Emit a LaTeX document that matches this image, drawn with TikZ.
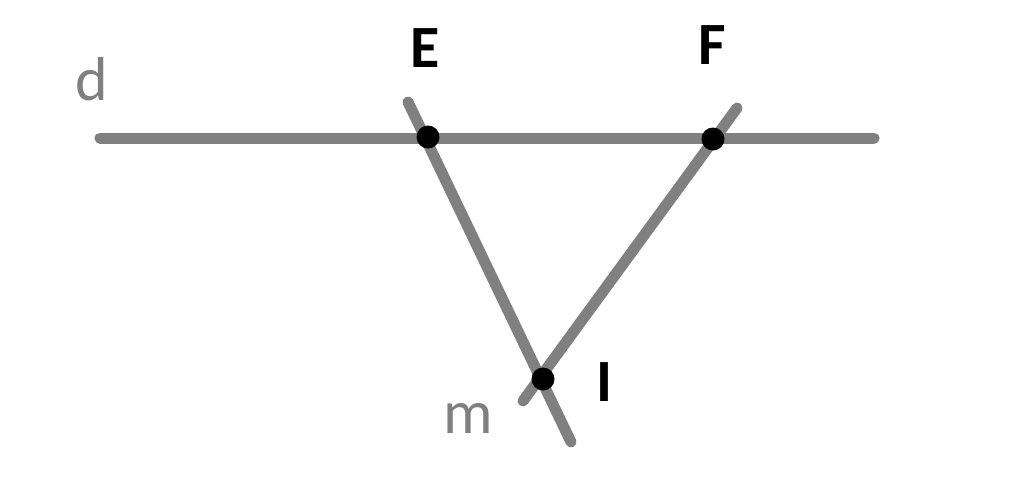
\documentclass[tikz,border=0pt]{standalone}
\usepackage{fontspec}
\setmainfont{Carlito}
\begin{document}
\begin{tikzpicture}[x=1pt,y=-1pt,
  ln/.style={draw=linegray,line width=11pt,line cap=round},
  pt/.style={circle,fill=black,inner sep=0pt,minimum size=23pt},
  blab/.style={font=\fontsize{60}{60}\selectfont\bfseries,text=black,inner sep=0pt},
  glab/.style={font=\fontsize{62}{62}\selectfont,text=labgray,inner sep=0pt}]
\definecolor{linegray}{RGB}{128,128,128}
\definecolor{labgray}{RGB}{128,128,128}
\useasboundingbox (0,0) rectangle (1024,495);
\coordinate (dA) at (100,138);
\coordinate (dB) at (874,138);
\coordinate (eA) at (408,102);
\coordinate (eB) at (571,442);
\coordinate (fA) at (737,108);
\coordinate (fB) at (523,401);
\draw[ln] (dA) -- (dB);
\draw[ln] (eA) -- (eB);
\draw[ln] (fA) -- (fB);
\node[pt] (E) at (428,137) {};
\node[pt] (F) at (713,139) {};
\node[pt] (I) at (543,379) {};
\node[blab] (lE) at (425,48) {E};
\node[blab] (lF) at (712,45) {F};
\node[blab] (lI) at (604,382) {I};
\node[glab] (ld) at (92,79) {d};
\node[glab] (lm) at (468,418) {m};
\end{tikzpicture}
\end{document}
